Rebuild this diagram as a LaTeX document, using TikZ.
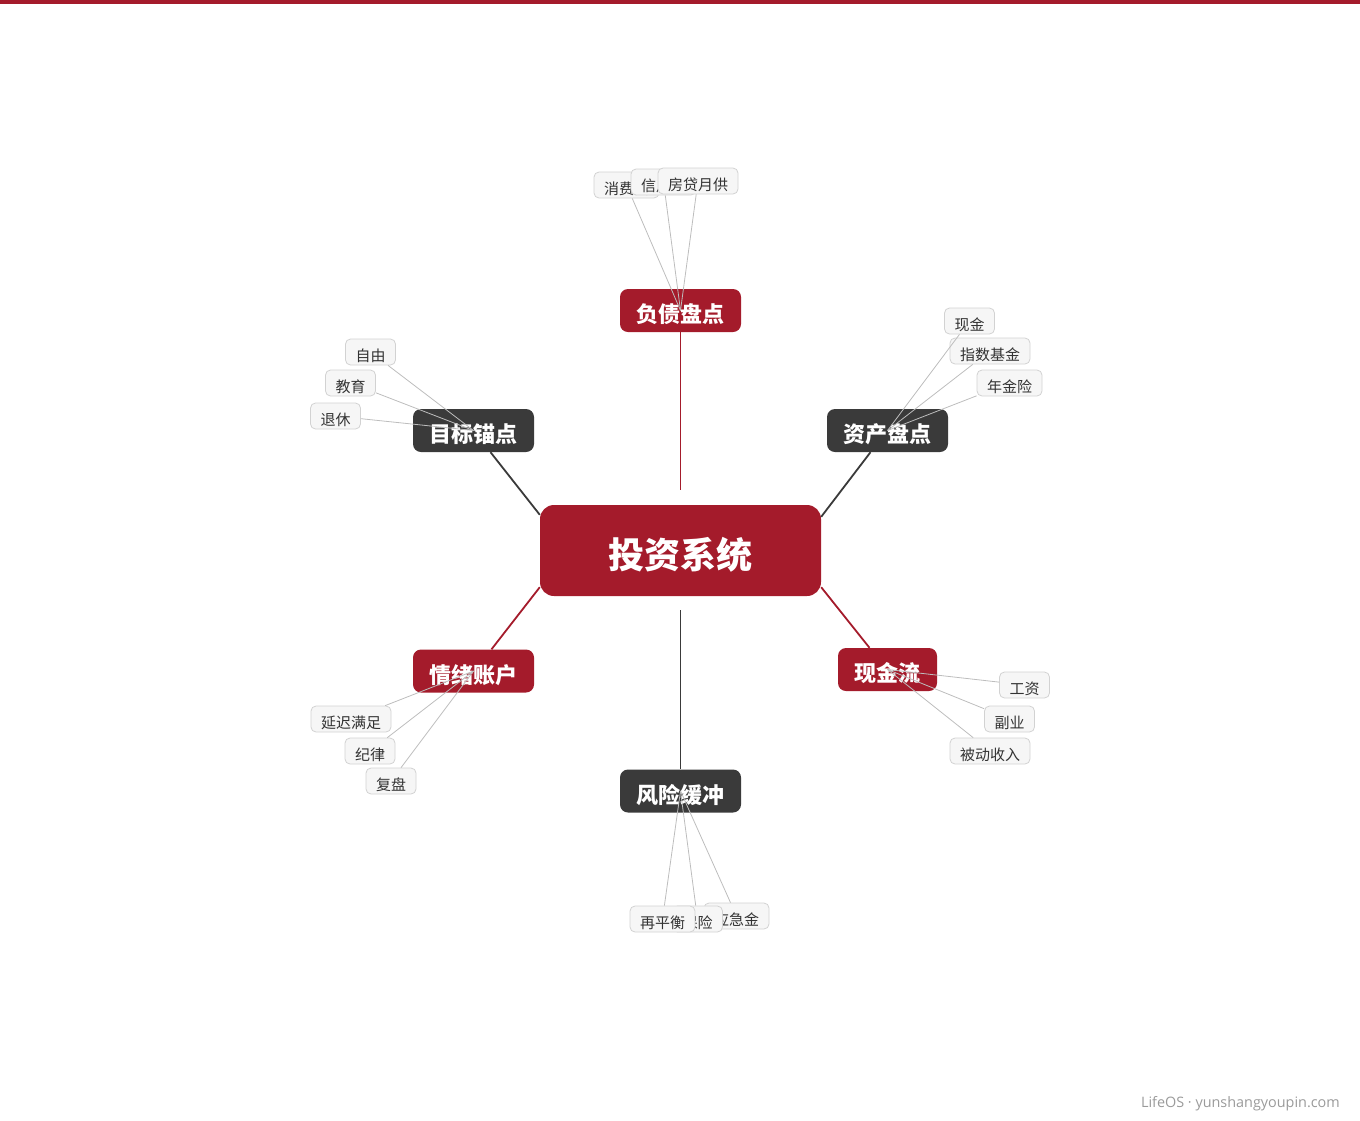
\documentclass[tikz,border=0pt]{standalone}
\usepackage{fontspec}
\newfontfamily\cjk{Noto Sans CJK SC}
\newfontfamily\footfont{Open Sans}
\definecolor{brandred}{HTML}{A41B2B}
\definecolor{darkbox}{HTML}{3A3A3A}
\definecolor{leafgray}{HTML}{BDBDBD}
\definecolor{leafborder}{HTML}{D2D2D2}
\definecolor{leaffill}{HTML}{F6F6F6}
\definecolor{leaftext}{HTML}{333333}
\definecolor{foottext}{HTML}{9A9A9A}

\begin{document}
\begin{tikzpicture}[x=1pt,y=-1pt,
    hub/.style={fill=brandred,rounded corners=14pt,minimum width=281pt,minimum height=91pt,inner sep=0pt,text height=37.9pt,text depth=2.5pt,text=white,font=\cjk\bfseries\fontsize{36}{40}\selectfont},
    redbranch/.style={fill=brandred,rounded corners=8pt,minimum width=121pt,minimum height=43pt,inner sep=0pt,text height=26.3pt,text depth=1.5pt,text=white,font=\cjk\bfseries\fontsize{22}{26}\selectfont},
    darkbranch/.style={redbranch,fill=darkbox},
    leaf/.style={draw=leafborder,fill=leaffill,rounded corners=5pt,line width=0.8pt,minimum height=26pt,inner xsep=10pt,inner ysep=0pt,text height=19.5pt,text depth=1pt,text=leaftext,font=\cjk\fontsize{15}{18}\selectfont},
    leafline/.style={draw=leafgray,line width=0.8pt},
    spoke/.style={line width=1.8pt}]
    \useasboundingbox (0,0) rectangle (1360,1120);
    \fill[brandred] (0,0) rectangle (1360,4);

    % centre and branches
    \node[hub] (touzi) at (680.5,550.5) {投资系统};
    \node[redbranch] (fuzhai) at (680.5,310.5) {负债盘点};
    \node[darkbranch] (zichan) at (887.5,430.5) {资产盘点};
    \node[darkbranch] (mubiao) at (473.5,430.5) {目标锚点};
    \node[redbranch] (qingxu) at (473.5,671) {情绪账户};
    \node[redbranch,minimum width=99pt] (xianjin) at (887.5,669.5) {现金流};
    \node[darkbranch] (fengxian) at (680.5,791) {风险缓冲};

    \draw[spoke,brandred,shorten >=15pt] (fuzhai) -- (touzi);
    \draw[spoke,darkbox,shorten <=14pt] (touzi) -- (fengxian);
    \draw[spoke,darkbox] ([xshift=17pt]mubiao.south) -- ([yshift=-10pt]touzi.north west);
    \draw[spoke,darkbox] ([xshift=-17pt]zichan.south) -- ([yshift=-12pt]touzi.north east);
    \draw[spoke,brandred] ([xshift=18pt]qingxu.north) -- ([yshift=9pt]touzi.south west);
    \draw[spoke,brandred] ([xshift=-18pt]xianjin.north) -- ([yshift=9pt]touzi.south east);

    % leaves
    \node[leaf] (xiaofei) at (626.5,185) {消费贷};
    \node[leaf] (xinyong) at (663.5,182) {信用卡};
    \node[leaf] (fangdai) at (698,181) {房贷月供};

    \node[leaf] (xianjinl) at (969.5,321) {现金};
    \node[leaf] (zhishu) at (990,351) {指数基金};
    \node[leaf] (nianjin) at (1009.5,383) {年金险};

    \node[leaf] (ziyou) at (370.5,352) {自由};
    \node[leaf] (jiaoyu) at (350.5,383) {教育};
    \node[leaf] (tuixiu) at (335.5,416) {退休};

    \node[leaf] (yanchi) at (351,719) {延迟满足};
    \node[leaf] (jilv) at (370,751) {纪律};
    \node[leaf] (fupan) at (391,781) {复盘};

    \node[leaf] (gongzi) at (1024.5,685) {工资};
    \node[leaf] (fuye) at (1009.5,719) {副业};
    \node[leaf] (beidong) at (990,751) {被动收入};

    \node[leaf] (yingji) at (736.5,916) {应急金};
    \node[leaf] (baoxian) at (697.5,919) {保险};
    \node[leaf] (zaiping) at (662.5,919) {再平衡};

    \foreach \l in {xiaofei,xinyong,fangdai}
        \draw[leafline] (\l) -- (fuzhai.center);
    \foreach \l in {xianjinl,zhishu,nianjin}
        \draw[leafline] (\l) -- (zichan.center);
    \foreach \l in {ziyou,jiaoyu,tuixiu}
        \draw[leafline] (\l) -- (mubiao.center);
    \foreach \l in {yanchi,jilv,fupan}
        \draw[leafline] (\l) -- (qingxu.center);
    \foreach \l in {gongzi,fuye,beidong}
        \draw[leafline] (\l) -- (xianjin.center);
    \foreach \l in {yingji,baoxian,zaiping}
        \draw[leafline] (\l) -- (fengxian.center);

    \node[anchor=base east,inner sep=0pt,text=foottext,font=\footfont\fontsize{14.4}{16}\selectfont] (footer) at (1340,1107) {LifeOS · yunshangyoupin.com};
\end{tikzpicture}
\end{document}
